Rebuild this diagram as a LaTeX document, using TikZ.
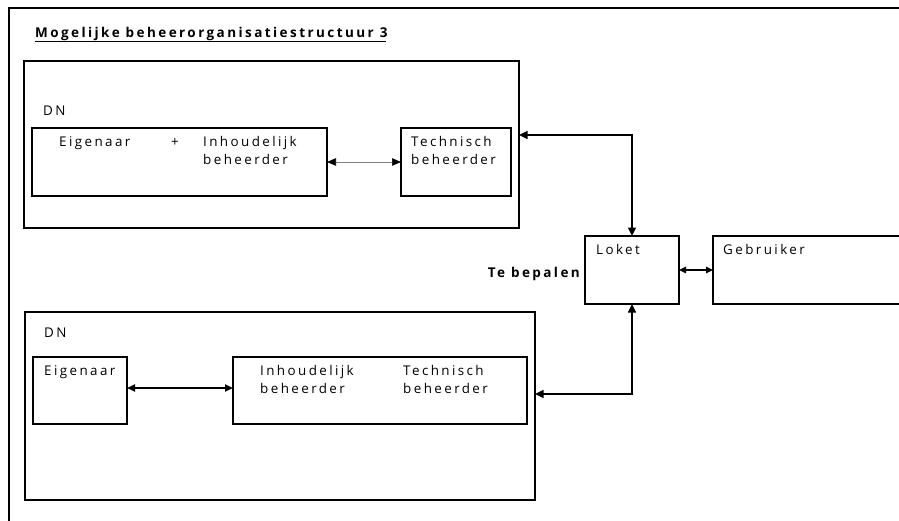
\documentclass[tikz,border=0pt]{standalone}
\usepackage{fontspec}
\setmainfont{Open Sans}[LetterSpace=18]
\usetikzlibrary{arrows.meta,calc}
\tikzset{
  box/.style={draw=black, line width=1.5pt, rectangle, inner sep=0pt, outer sep=0pt, anchor=north west},
  txt/.style={inner sep=0pt, anchor=base west, align=left, font=\fontsize{13.4}{18}\selectfont},
  btxt/.style={inner sep=0pt, font=\bfseries\fontsize{13.5}{18}\selectfont},
  conn/.style={line width=1.5pt, {Triangle[length=8.5pt,width=8pt]}-{Triangle[length=8.5pt,width=8pt]}},
  thinconn/.style={line width=0.6pt, draw=gray, {Triangle[length=9pt,width=7.5pt,color=black]}-{Triangle[length=9pt,width=7.5pt,color=black]}},
  thickconn/.style={line width=2.5pt, {Triangle[length=8pt,width=7pt]}-{Triangle[length=8pt,width=7pt]}},
  smallconn/.style={line width=1.5pt, {Triangle[length=7pt,width=6.5pt]}-{Triangle[length=7pt,width=6.5pt]}},
}
\begin{document}
\begin{tikzpicture}[x=1pt,y=-1pt]
\useasboundingbox (0,0) rectangle (899,520);
% outer frame
\draw[line width=2pt] (910,8) -- (9,8) -- (9,530);
% title
\node[btxt, anchor=base west] (title) at (35,37) {Mogelijke beheerorganisatiestructuur 3};
\draw[line width=1.3pt] ($(title.base west)+(0,4.5)$) -- ($(title.base east)+(-2,4.5)$);

% top DN group
\node[box, minimum width=495, minimum height=167] (topdn) at (24,61) {};
\node[txt] (dn1) at (43,115) {DN};
\node[box, minimum width=295, minimum height=68] (eiginh) at (32,128) {};
\node[txt] (eig1) at (59,146) {Eigenaar};
\node[txt] (plus) at (171,146) {+};
\node[txt] (inh1) at (203,164) {Inhoudelijk\\beheerder};
\node[box, minimum width=110, minimum height=68] (tech1) at (401,128) {};
\node[txt] (techt1) at (411,164) {Technisch\\beheerder};
\draw[thinconn] (eiginh.east) -- (tech1.west);

% loket / gebruiker
\node[box, minimum width=94, minimum height=68] (loket) at (585,236) {};
\node[txt] (lokett) at (596,254) {Loket};
\node[box, minimum width=200, minimum height=68] (gebr) at (713,236) {};
\node[txt] (gebrt) at (723,254) {Gebruiker};
\node[btxt, anchor=base east] (tebep) at (580,277) {Te bepalen};
\draw[smallconn] (loket.east) -- (gebr.west);

% bottom DN group
\node[box, minimum width=510, minimum height=188] (botdn) at (25,312) {};
\node[txt] (dn2) at (44,337) {DN};
\node[box, minimum width=94, minimum height=67] (eig2) at (33,357) {};
\node[txt] (eig2t) at (44,375) {Eigenaar};
\node[box, minimum width=294, minimum height=67] (inhtech) at (233,357) {};
\node[txt] (inh2) at (260,393) {Inhoudelijk\\beheerder};
\node[txt] (tech2) at (403,393) {Technisch\\beheerder};
\draw[thickconn] ([yshift=2.5pt]eig2.east) -- ([yshift=2.5pt]inhtech.west);

% connectors to loket
\coordinate (bendtop) at (633,135);
\coordinate (bendbot) at (633,394);
\draw[conn] (loket.north) |- (topdn.east |- bendtop);
\draw[conn] (loket.south) |- (botdn.east |- bendbot);
\end{tikzpicture}
\end{document}
